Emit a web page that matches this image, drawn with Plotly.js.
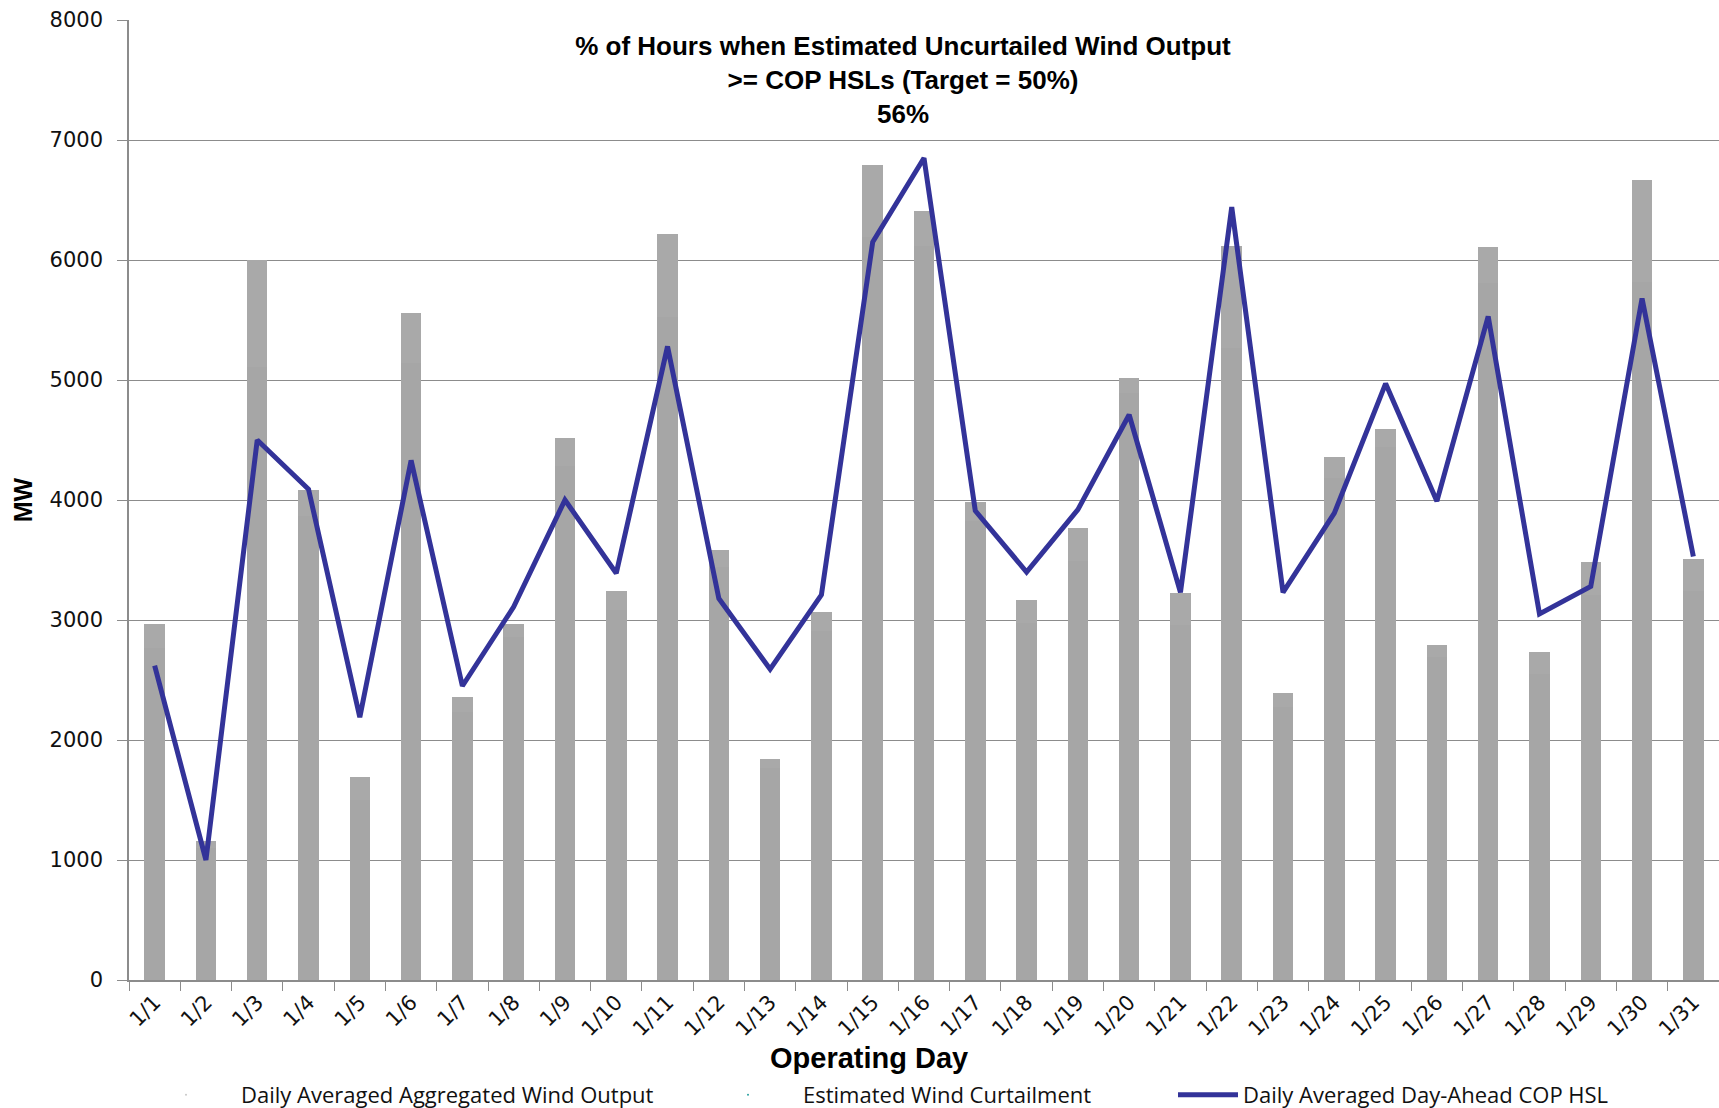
<!DOCTYPE html>
<html>
<head>
<meta charset="utf-8">
<script src="https://cdn.plot.ly/plotly-3.0.1.min.js"></script>
<style>html,body{margin:0;padding:0;background:#fff;}#chart{width:1719px;height:1108px;}</style>
</head>
<body>
<div id="chart"></div>
<script>
// Operating days
const days = ['1/1','1/2','1/3','1/4','1/5','1/6','1/7','1/8','1/9','1/10','1/11','1/12','1/13','1/14','1/15','1/16','1/17','1/18','1/19','1/20','1/21','1/22','1/23','1/24','1/25','1/26','1/27','1/28','1/29','1/30','1/31'];

// Daily Averaged Aggregated Wind Output (MW)
const windOutput = [2770,1100,5110,3870,1500,5140,2235,2855,4285,3080,5525,3440,1770,2905,6190,6115,3825,2975,3495,4890,2955,5265,2275,4185,4440,2695,5805,2550,3210,5820,3245];

// Estimated Wind Curtailment (MW), stacked on top of output
const curtailment = [200,60,890,210,190,420,125,115,230,160,690,140,75,160,600,290,160,190,270,125,270,850,115,170,150,100,300,180,270,850,260];

// Daily Averaged Day-Ahead COP HSL (MW)
const copHSL = [2620,1000,4500,4090,2190,4330,2450,3110,4000,3390,5280,3180,2590,3210,6150,6850,3910,3400,3920,4710,3230,6440,3230,3890,4970,3990,5530,3050,3280,5680,3530];

const yTicks = [0,1000,2000,3000,4000,5000,6000,7000,8000];

const titleLines = ['% of Hours when Estimated Uncurtailed Wind Output', '>= COP HSLs (Target = 50%)', '56%'];

const gray = '#a6a6a6';
const tickFont = {family: 'DejaVu Sans, sans-serif', size: 21, color: '#111'};
const legendFont = {family: 'Open Sans, sans-serif', size: 22, color: '#111'};
const boldFont = 'Liberation Sans, Arial, sans-serif';

const traces = [
  {type: 'bar', x: days, y: windOutput, name: 'Daily Averaged Aggregated Wind Output',
   marker: {color: gray, line: {width: 0}}, showlegend: false, hoverinfo: 'x+y+name'},
  {type: 'bar', x: days, y: curtailment, name: 'Estimated Wind Curtailment',
   marker: {color: '#a9a9a9', line: {width: 0}}, showlegend: false, hoverinfo: 'x+y+name'},
  {type: 'scatter', mode: 'lines', x: days, y: copHSL, name: 'Daily Averaged Day-Ahead COP HSL',
   line: {color: '#333399', width: 5}, legend: 'legend3'},
  // legend-only entries for the bar series (tiny markers, as in the reference)
  {type: 'scatter', mode: 'markers', x: [null], y: [null], name: 'Daily Averaged Aggregated Wind Output',
   marker: {color: '#c8c8c8', size: 2}, legend: 'legend'},
  {type: 'scatter', mode: 'markers', x: [null], y: [null], name: 'Estimated Wind Curtailment',
   marker: {color: '#2aa0a0', size: 2}, legend: 'legend2'}
];

const legendBase = {orientation: 'h', xref: 'container', yref: 'container', yanchor: 'middle',
  y: 1 - 1095/1108, font: legendFont, bgcolor: 'rgba(0,0,0,0)', borderwidth: 0};

const layout = {
  width: 1719, height: 1108,
  margin: {l: 129, r: 0, t: 20, b: 128, pad: 0},
  paper_bgcolor: '#fff', plot_bgcolor: '#fff',
  barmode: 'stack', bargap: 0.6,
  title: {
    text: titleLines.join('<br>'),
    font: {family: boldFont, size: 26, color: '#000', weight: 'bold'},
    xref: 'container', x: 903/1719, xanchor: 'center',
    yref: 'container', y: 1 - 55/1108, yanchor: 'top'
  },
  xaxis: {
    type: 'category', tickson: 'boundaries', ticks: 'outside', ticklen: 9, tickcolor: '#8c8c8c',
    tickangle: -45, tickfont: tickFont, showline: true, linecolor: '#8c8c8c', linewidth: 1.5,
    showgrid: false, automargin: false
  },
  yaxis: {
    range: [0, 8000], tickvals: yTicks, ticks: 'outside', ticklen: 10, tickcolor: '#8c8c8c',
    tickfont: tickFont, ticklabelstandoff: 10, showline: true, linecolor: '#8c8c8c', linewidth: 1.5,
    showgrid: true, gridcolor: '#8c8c8c', gridwidth: 1.2, zeroline: false, automargin: false,
    title: {text: 'MW', font: {family: boldFont, size: 25, color: '#000', weight: 'bold'}, standoff: 10}
  },
  annotations: [
    {text: 'Operating Day', xref: 'paper', yref: 'paper', x: (869-129)/(1719-129), y: -(1058-980)/960,
     xanchor: 'center', yanchor: 'middle', showarrow: false,
     font: {family: boldFont, size: 29, color: '#000', weight: 'bold'}}
  ],
  legend: Object.assign({}, legendBase, {x: 131/1719, xanchor: 'left', itemwidth: 100}),
  legend2: Object.assign({}, legendBase, {x: 693/1719, xanchor: 'left', itemwidth: 100}),
  legend3: Object.assign({}, legendBase, {x: 1173/1719, xanchor: 'left', itemwidth: 60}),
  showlegend: true
};

Plotly.newPlot('chart', traces, layout, {displayModeBar: false, responsive: false});
</script>
</body>
</html>
